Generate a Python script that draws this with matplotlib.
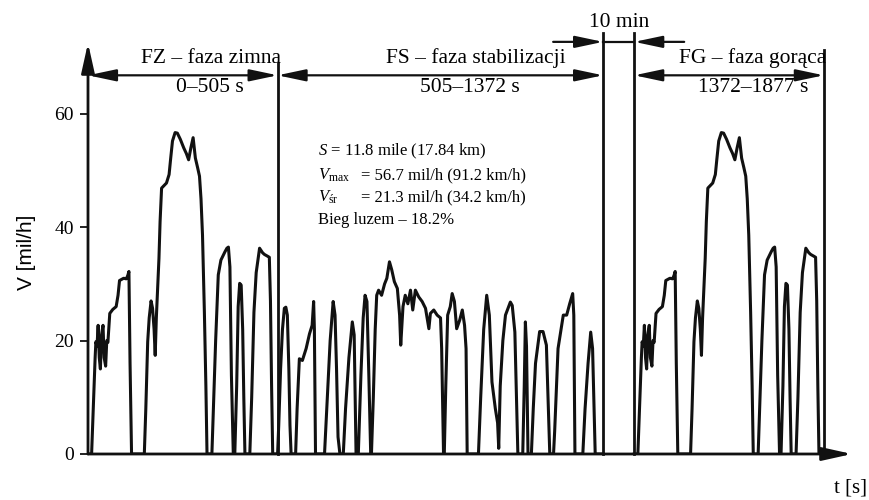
import matplotlib.pyplot as plt
import numpy as np

plt.rcParams['font.family'] = 'Liberation Serif'
plt.rcParams['mathtext.fontset'] = 'custom'
plt.rcParams['mathtext.rm'] = 'Liberation Serif'
plt.rcParams['mathtext.it'] = 'Liberation Serif:italic'

# cold phase 0-505 s (the hot phase repeats it), speed in mil/h
t_cold = [0, 9.6, 14, 19, 21, 24, 27, 30, 33, 36, 40, 43, 47, 50, 53, 58, 66, 75, 80, 84,
          95, 102, 106, 109, 112, 116,
          150, 154, 159, 163, 168, 172, 176, 179, 182, 186, 189, 192, 196, 209, 216, 220,
          225, 232, 238, 246, 255, 262, 268, 274, 280, 286, 292, 297, 301, 305, 310, 314, 317,
          330, 334, 340, 347, 354, 365, 370, 374, 378, 382, 387,
          391, 396, 400, 404, 408, 412, 415, 418,
          431, 436, 442, 448, 457, 465, 470, 478, 483, 486, 489, 492, 505]
v_cold = [0, 0, 8, 17, 19.8, 19, 22.7, 17, 15, 21, 22.7, 17, 15.5, 20, 19.7, 24.8, 25.5, 26, 28, 30.6,
          31, 30.9, 31.5, 32.2, 16, 0,
          0, 8, 19.8, 24, 27, 25.7, 22, 17.4, 24, 30, 34.5, 41, 46.9, 47.8, 49.3, 52,
          55.2, 56.7, 56.6, 55.5, 54, 53, 51.9, 54, 55.8, 52.2, 50.5, 49, 45, 38.6, 25, 12, 0,
          0, 8, 20, 31.6, 34.2, 35.7, 36.3, 36.5, 33, 13.9, 0,
          0, 12, 26, 30.1, 29.8, 22, 10, 0,
          0, 10, 25, 32, 36.3, 35.5, 35.2, 34.9, 34.7, 27, 12, 0, 0]

# stabilized phase 505-1372 s
t_stab = [505, 508, 513, 518, 523, 527, 531, 535, 538, 541,
          553, 557, 563, 571, 581, 590, 597, 601, 603, 606,
          630, 636, 645, 653, 658, 662, 666, 671,
          680, 686, 695, 704, 709, 714,
          720, 727, 733, 738, 743, 748, 753,
          755, 760, 765, 769, 774, 782, 790, 796, 803, 809, 816, 824, 830, 833, 839, 845,
          852, 859, 865, 872, 881, 890, 899, 908, 912, 921, 930, 939, 942, 945, 947,
          949, 953, 958, 965, 970, 976, 982, 990, 997, 1003, 1007, 1010,
          1040, 1046, 1054, 1062, 1069, 1076, 1085, 1091, 1094, 1098, 1105, 1112, 1125,
          1130, 1137, 1145,
          1158, 1162, 1165, 1168, 1172,
          1181, 1186, 1192, 1203, 1212, 1221, 1230,
          1240, 1243, 1252, 1266, 1275, 1283, 1291, 1294, 1297,
          1318, 1324, 1332, 1339, 1344, 1351, 1372]
v_stab = [0, 5, 15, 22, 25.7, 25.9, 24.5, 15, 5, 0,
          0, 8, 16.8, 16.5, 18.6, 21.2, 22.7, 26.9, 22, 0,
          0, 8, 20, 26.9, 24.5, 15, 3, 0,
          0, 8, 17, 23.3, 21, 0,
          0, 14, 24, 28, 26.9, 14, 0,
          0, 10, 22, 28, 28.9, 28, 30, 31, 33.9, 32.5, 30.4, 29.2, 24.5, 19.2, 26, 28,
          26.5, 28.9, 25.4, 28.9, 27.7, 26.9, 25.7, 22.1, 24.8, 25.4, 24.5, 24, 18.6, 8, 0,
          0, 12, 24.5, 26, 28.3, 26.9, 22.1, 23.6, 25.4, 22.7, 18.6, 0,
          0, 10, 22, 28, 24.5, 12.7, 8, 5.5, 1, 12, 20, 24.5, 26.8,
          26.2, 21.5, 0,
          0, 12, 23.3, 19, 0,
          0, 8, 16, 21.6, 21.6, 19.2, 0,
          0, 4, 18.6, 24.5, 24.5, 26.5, 28.3, 24.5, 0,
          0, 8, 16, 21.5, 18.6, 0, 0]

gap = 83  # 10 min pause, drawn short
hot_start = 1372 + gap
t_hot = np.array(t_cold) + hot_start

line_c = '#111111'

fig = plt.figure(figsize=(8.69, 5), dpi=100)
ax = fig.add_axes([88 / 869, 46 / 500, 764 / 869, 411 / 500])
ax.set_xlim(0, 2035)
ax.set_ylim(0, 72.5)
for s in ax.spines.values():
    s.set_visible(False)

ax.plot(t_cold, v_cold, color=line_c, lw=2.2)
ax.plot(t_stab, v_stab, color=line_c, lw=2.2)
ax.plot(t_hot, v_cold, color=line_c, lw=2.2)

# axes with arrows
arr = dict(arrowstyle='-|>,head_length=0.9,head_width=0.2', color=line_c, lw=2,
           mutation_scale=20, shrinkA=0, shrinkB=0)
ax.annotate('', xy=(0, 72.5), xytext=(0, 0), arrowprops=arr, annotation_clip=False)
ax.annotate('', xy=(2035, 0), xytext=(0, 0), arrowprops=arr, annotation_clip=False)

# phase borders
ax.plot([505, 505], [0, 69], color=line_c, lw=2, clip_on=False)
ax.plot([1372, 1372], [0, 74.2], color=line_c, lw=2, clip_on=False)
ax.plot([hot_start, hot_start], [0, 74.2], color=line_c, lw=2, clip_on=False)
ax.plot([hot_start + 505] * 2, [0, 71.3], color=line_c, lw=2, clip_on=False)

both = dict(arrowstyle='<|-|>,head_length=0.85,head_width=0.18', color=line_c, lw=1.6,
            mutation_scale=20, shrinkA=0, shrinkB=0)
for a, b in [(0, 505), (505, 1372), (hot_start, hot_start + 505)]:
    ax.annotate('', xy=(a, 66.8), xytext=(b, 66.8), arrowprops=both, annotation_clip=False)

one = dict(arrowstyle='-|>,head_length=0.85,head_width=0.18', color=line_c, lw=1.6,
           mutation_scale=20, shrinkA=0, shrinkB=0)
ax.annotate('', xy=(1372, 72.7), xytext=(1239, 72.7), arrowprops=one, annotation_clip=False)
ax.annotate('', xy=(hot_start, 72.7), xytext=(1588, 72.7), arrowprops=one, annotation_clip=False)
ax.plot([1372, hot_start], [72.7, 72.7], color=line_c, lw=1.6, clip_on=False)

hs = 15.5
ax.text(hot_start - gap / 2, 76.2, '10 min', ha='center', va='center', fontsize=hs)
ax.text(328, 69.8, 'FZ – faza zimna', ha='center', va='center', fontsize=hs)
ax.text(325, 64.6, '0–505 s', ha='center', va='center', fontsize=hs)
ax.text(1034, 69.8, 'FS – faza stabilizacji', ha='center', va='center', fontsize=hs)
ax.text(1017, 64.6, '505–1372 s', ha='center', va='center', fontsize=hs)
ax.text(1769, 69.8, 'FG – faza gorąca', ha='center', va='center', fontsize=hs)
ax.text(1771, 64.6, '1372–1877 s', ha='center', va='center', fontsize=hs)

bs = 12
ax.text(613, 53.3, r'$S$ = 11.8 mile (17.84 km)', va='center', fontsize=bs)
ax.text(613, 49.2, r'$V_{\mathrm{max}}$', va='center', fontsize=bs)
ax.text(727, 49.2, '= 56.7 mil/h (91.2 km/h)', va='center', fontsize=bs)
ax.text(613, 45.3, r'$V_{\mathrm{śr}}$', va='center', fontsize=bs)
ax.text(727, 45.3, '= 21.3 mil/h (34.2 km/h)', va='center', fontsize=bs)
ax.text(613, 41.3, 'Bieg luzem – 18.2%', va='center', fontsize=bs)

ax.set_xticks([])
ax.set_yticks([0, 20, 40, 60])
ax.tick_params(axis='y', direction='out', length=6, width=1.3, labelsize=14, pad=4,
               color=line_c)

fig.text(27 / 869, 1 - 252 / 500, 'V [mil/h]', rotation=90, ha='center', va='center',
         family='Liberation Sans', fontsize=15)
fig.text(850 / 869, 1 - 488 / 500, 't [s]', ha='center', va='center', fontsize=15)

fig.savefig('out.png', dpi=100)
